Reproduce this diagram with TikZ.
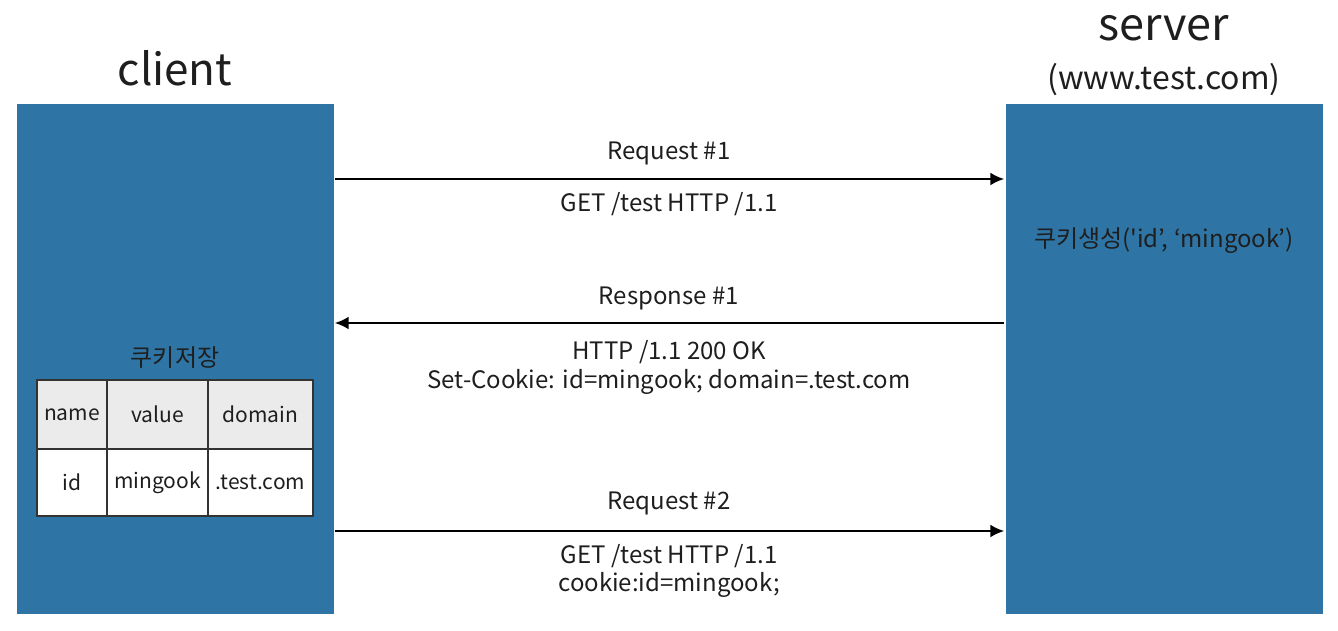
\documentclass[tikz,border=0pt]{standalone}
\usepackage{fontspec}
\setmainfont{Noto Sans CJK KR}
\usetikzlibrary{arrows.meta}
\definecolor{sideblue}{RGB}{46,117,166}
\definecolor{inkgray}{RGB}{30,30,30}
\definecolor{headgray}{RGB}{235,235,235}
\tikzset{
  every picture/.style={
    line width=2.4pt,
    >={Latex[width=13pt, length=14pt]}
  },
  side/.style={
    fill=sideblue, minimum width=317pt, minimum height=510pt,
    inner sep=0pt
  },
  msg/.style={
    font=\fontsize{24}{28}\selectfont, text=inkgray, align=center
  },
  cell/.style={
    draw=black!80, line width=1.3pt, inner sep=0pt,
    font=\fontsize{21}{25}\selectfont, text=inkgray
  }
}
\begin{document}
\begin{tikzpicture}[x=1pt, y=-1pt]
  \useasboundingbox (0,0) rectangle (1338,630);
  % the two sides
  \node [side] (client) at (175,359) {};
  \node [side] (server) at (1164,359) {};
  \node [font=\fontsize{44}{50}\selectfont, text=inkgray] (clienttitle) at (175,68) {client};
  \node [font=\fontsize{45}{50}\selectfont, text=inkgray] (servertitle) at (1164,28) {server};
  \node [font=\fontsize{32}{36}\selectfont, text=inkgray] (serverhost) at (1164,80) {(www.test.com)};
  \node [msg] (make) at (1164,241) {쿠키생성(\textquotesingle id’, ‘mingook’)};
  % messages
  \draw [->] (client.east |- 0,179) -- (server.west |- 0,179);
  \node [msg] (req1) at (669,153) {Request \#1};
  \node [msg] (get1) at (669,204) {GET /test HTTP /1.1};
  \draw [->] (server.west |- 0,323) -- (client.east |- 0,323);
  \node [msg] (res1) at (669,298) {Response \#1};
  \node [msg] (ok) at (669,352) {HTTP /1.1 200 OK};
  \node [msg] (setc) at (669,382) {Set-Cookie: id=mingook; domain=.test.com};
  \draw [->] (client.east |- 0,531) -- (server.west |- 0,531);
  \node [msg] (req2) at (669,503) {Request \#2};
  \node [msg] (get2) at (669,556) {GET /test HTTP /1.1};
  \node [msg] (cook) at (669,585) {cookie:id=mingook;};
  % cookie store
  \node [msg] (store) at (175,358) {쿠키저장};
  \node [cell, fill=headgray, minimum width=70pt, minimum height=69pt] (hname) at (72,414.5) {name};
  \node [cell, fill=headgray, minimum width=101pt, minimum height=69pt] (hvalue) at (157.5,414.5) {value};
  \node [cell, fill=headgray, minimum width=105pt, minimum height=69pt] (hdomain) at (260.5,414.5) {domain};
  \node [cell, fill=white, minimum width=70pt, minimum height=67pt] (cname) at (72,482.5) {id};
  \node [cell, fill=white, minimum width=101pt, minimum height=67pt] (cvalue) at (157.5,482.5) {mingook};
  \node [cell, fill=white, minimum width=105pt, minimum height=67pt] (cdomain) at (260.5,482.5) {.test.com};
\end{tikzpicture}
\end{document}
